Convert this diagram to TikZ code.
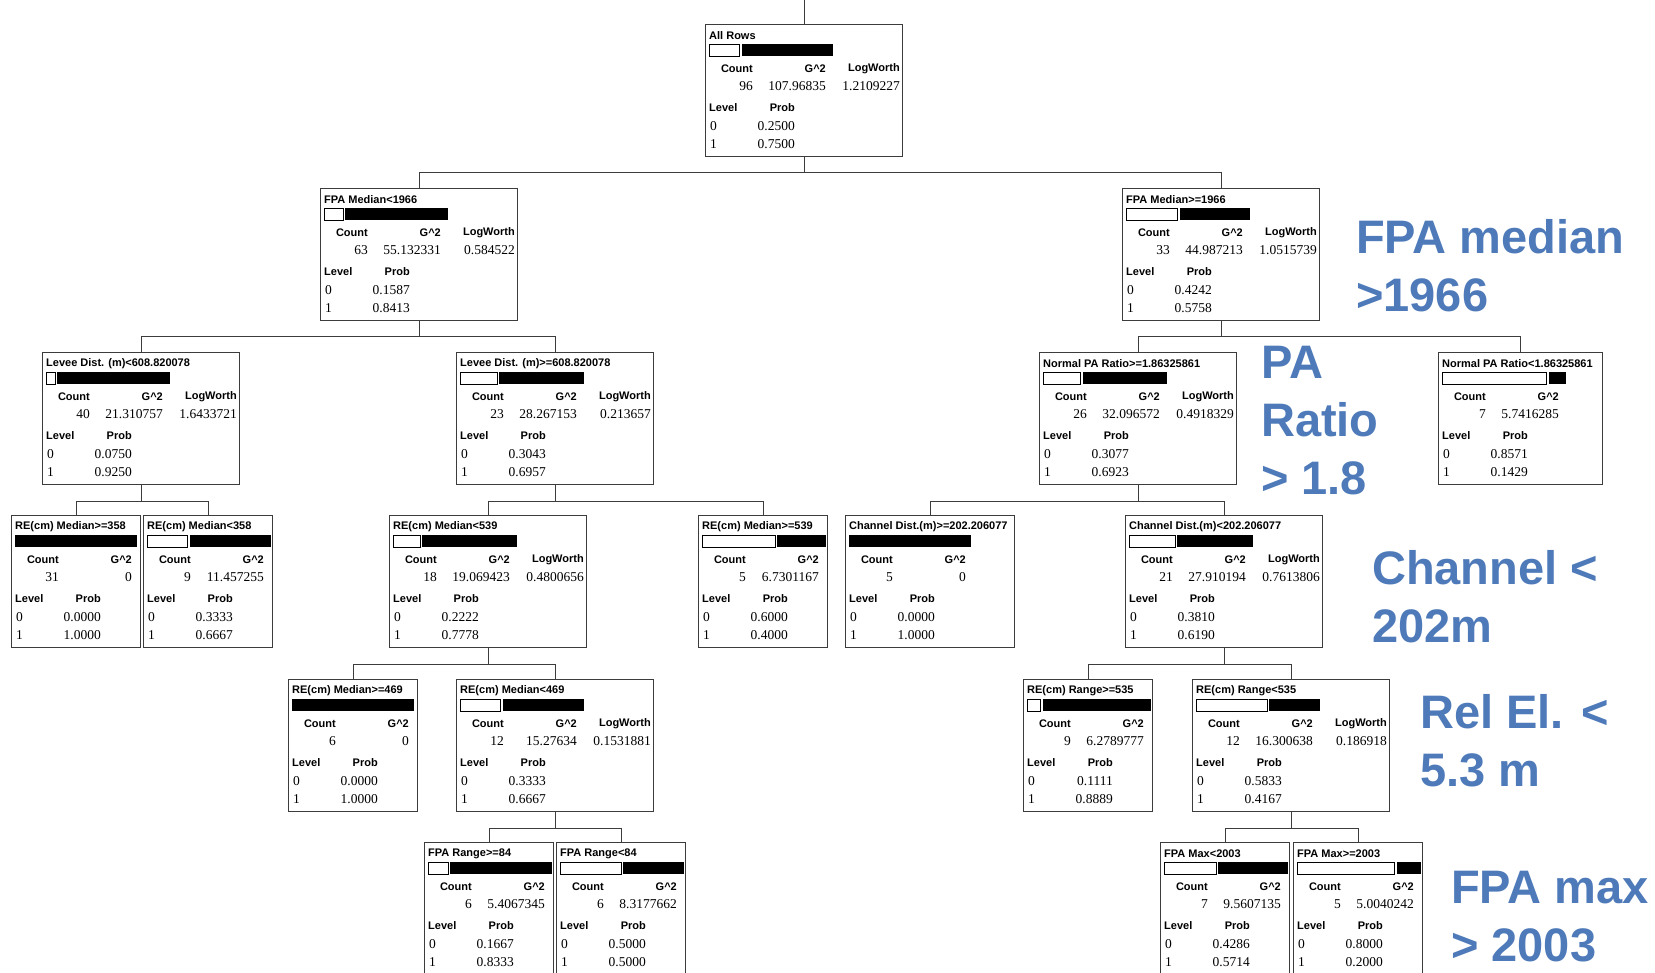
\documentclass[tikz,border=0pt]{standalone}
\usepackage{fontspec}
\setmainfont{Liberation Serif}
\setsansfont{Liberation Sans}
\usetikzlibrary{positioning}

\definecolor{notebl}{RGB}{78,122,186}
\definecolor{framegray}{RGB}{60,60,60}

\newcommand{\barlen}{122}

% one tree box: name, position, width, title, prob 0, prob 1, count, G^2, LogWorth
\newcommand{\splitbox}[9]{%
  \node[treebox, minimum width=#3] (#1) at (#2) {};
  \node[headtxt] at ([shift={(4,12)}]#1.north west) {#4};
  \pgfmathsetmacro\barwz{#5*\barlen}
  \pgfmathsetmacro\barwo{#6*\barlen}
  \ifdim\barwz pt>0.1pt
    \draw[barframe] ([shift={(4,20)}]#1.north west) rectangle ++(\barwz,12);
    \fill ([shift={(6+\barwz,20)}]#1.north west) rectangle ++(\barwo,12);
  \else
    \fill ([shift={(4,20)}]#1.north west) rectangle ++(\barwo,12);
  \fi
  \node[headtxt, anchor=east] at ([shift={(48,44.5)}]#1.north west) {Count};
  \node[headtxt, anchor=east] at ([shift={(121,44.5)}]#1.north west) {G\textasciicircum2};
  \node[valtxt, anchor=east] at ([shift={(48,62)}]#1.north west) {#7};
  \node[valtxt, anchor=east] at ([shift={(121,62)}]#1.north west) {#8};
  \ifx\relax#9\relax\else
    \node[headtxt, anchor=east] at ([shift={(195,44.5)}]#1.north west) {LogWorth};
    \node[valtxt, anchor=east] at ([shift={(195,62)}]#1.north west) {#9};
  \fi
  \node[headtxt] at ([shift={(4,83.5)}]#1.north west) {Level};
  \node[headtxt, anchor=east] at ([shift={(90,83.5)}]#1.north west) {Prob};
  \node[valtxt] at ([shift={(5,102)}]#1.north west) {0};
  \node[valtxt, anchor=east] at ([shift={(90,102)}]#1.north west) {#5};
  \node[valtxt] at ([shift={(5,120)}]#1.north west) {1};
  \node[valtxt, anchor=east] at ([shift={(90,120)}]#1.north west) {#6};
}

\begin{document}
\begin{tikzpicture}[
  x=1pt, y=-1pt,
  treebox/.style={draw=framegray, line width=1pt, rectangle, anchor=north west, minimum height=132pt, inner sep=0pt},
  headtxt/.style={anchor=west, inner sep=0pt, font=\sffamily\bfseries\fontsize{11}{13}\selectfont},
  valtxt/.style={anchor=west, inner sep=0pt, font=\rmfamily\fontsize{13.5}{15}\selectfont},
  barframe/.style={draw=black, line width=0.8pt, fill=white},
  link/.style={draw=framegray, line width=1pt},
  note/.style={anchor=north west, align=left, inner sep=0pt, text=notebl, font=\sffamily\bfseries\fontsize{47}{58}\selectfont}
]
\useasboundingbox[fill=white] (0,0) rectangle (1655,973);

\splitbox{root}{705,24}{197pt}{All Rows}{0.2500}{0.7500}{96}{107.96835}{1.2109227}
\splitbox{fpalo}{320,188}{197pt}{FPA Median<1966}{0.1587}{0.8413}{63}{55.132331}{0.584522}
\splitbox{fpahi}{1122,188}{197pt}{FPA Median>=1966}{0.4242}{0.5758}{33}{44.987213}{1.0515739}
\splitbox{leveelo}{42,352}{197pt}{Levee Dist. (m)<608.820078}{0.0750}{0.9250}{40}{21.310757}{1.6433721}
\splitbox{leveehi}{456,352}{197pt}{Levee Dist. (m)>=608.820078}{0.3043}{0.6957}{23}{28.267153}{0.213657}
\splitbox{ratiohi}{1039,352}{197pt}{Normal PA Ratio>=1.86325861}{0.3077}{0.6923}{26}{32.096572}{0.4918329}
\splitbox{ratiolo}{1438,352}{164pt}{Normal PA Ratio<1.86325861}{0.8571}{0.1429}{7}{5.7416285}{}
\splitbox{remedA}{11,515}{129pt}{RE(cm) Median>=358}{0.0000}{1.0000}{31}{0}{}
\splitbox{remedB}{143,515}{129pt}{RE(cm) Median<358}{0.3333}{0.6667}{9}{11.457255}{}
\splitbox{remedC}{389,515}{197pt}{RE(cm) Median<539}{0.2222}{0.7778}{18}{19.069423}{0.4800656}
\splitbox{remedD}{698,515}{129pt}{RE(cm) Median>=539}{0.6000}{0.4000}{5}{6.7301167}{}
\splitbox{chanhi}{845,515}{169pt}{Channel Dist.(m)>=202.206077}{0.0000}{1.0000}{5}{0}{}
\splitbox{chanlo}{1125,515}{197pt}{Channel Dist.(m)<202.206077}{0.3810}{0.6190}{21}{27.910194}{0.7613806}
\splitbox{remedE}{288,679}{129pt}{RE(cm) Median>=469}{0.0000}{1.0000}{6}{0}{}
\splitbox{remedF}{456,679}{197pt}{RE(cm) Median<469}{0.3333}{0.6667}{12}{15.27634}{0.1531881}
\splitbox{rangehi}{1023,679}{129pt}{RE(cm) Range>=535}{0.1111}{0.8889}{9}{6.2789777}{}
\splitbox{rangelo}{1192,679}{197pt}{RE(cm) Range<535}{0.5833}{0.4167}{12}{16.300638}{0.186918}
\splitbox{fparangehi}{424,842}{129pt}{FPA Range>=84}{0.1667}{0.8333}{6}{5.4067345}{}
\splitbox{fparangelo}{556,842}{129pt}{FPA Range<84}{0.5000}{0.5000}{6}{8.3177662}{}
\splitbox{fpamaxlo}{1160,842}{129pt}{FPA Max<2003}{0.4286}{0.5714}{7}{9.5607135}{}
\splitbox{fpamaxhi}{1293,842}{129pt}{FPA Max>=2003}{0.8000}{0.2000}{5}{5.0040242}{}

\coordinate (topend) at (804,0);
\draw[link] (topend) -- (root.north);
\draw[link] (root.south) -- ++(0,16) -| (fpalo.north);
\draw[link] (root.south) -- ++(0,16) -| (fpahi.north);
\draw[link] (fpalo.south) -- ++(0,16) -| (leveelo.north);
\draw[link] (fpalo.south) -- ++(0,16) -| (leveehi.north);
\draw[link] (fpahi.south) -- ++(0,16) -| (ratiohi.north);
\draw[link] (fpahi.south) -- ++(0,16) -| (ratiolo.north);
\draw[link] (leveelo.south) -- ++(0,16) -| (remedA.north);
\draw[link] (leveelo.south) -- ++(0,16) -| (remedB.north);
\draw[link] (leveehi.south) -- ++(0,16) -| (remedC.north);
\draw[link] (leveehi.south) -- ++(0,16) -| (remedD.north);
\draw[link] (ratiohi.south) -- ++(0,16) -| (chanhi.north);
\draw[link] (ratiohi.south) -- ++(0,16) -| (chanlo.north);
\draw[link] (remedC.south) -- ++(0,16) -| (remedE.north);
\draw[link] (remedC.south) -- ++(0,16) -| (remedF.north);
\draw[link] (chanlo.south) -- ++(0,16) -| (rangehi.north);
\draw[link] (chanlo.south) -- ++(0,16) -| (rangelo.north);
\draw[link] (remedF.south) -- ++(0,16) -| (fparangehi.north);
\draw[link] (remedF.south) -- ++(0,16) -| (fparangelo.north);
\draw[link] (rangelo.south) -- ++(0,16) -| (fpamaxlo.north);
\draw[link] (rangelo.south) -- ++(0,16) -| (fpamaxhi.north);

% remarks on the right
\node[note] (notefpa) at (1356,219) {FPA median\\>1966};
\node[note] (noteratio) at (1261,346) {PA\\Ratio\\> 1.8};
\node[note] (notechan) at (1372,550) {Channel <\\202m};
\node[note] (noterel) at (1420,694) {Rel El. <\\5.3 m};
\node[note] (notemax) at (1451,871) {FPA max\\> 2003};
\end{tikzpicture}
\end{document}
